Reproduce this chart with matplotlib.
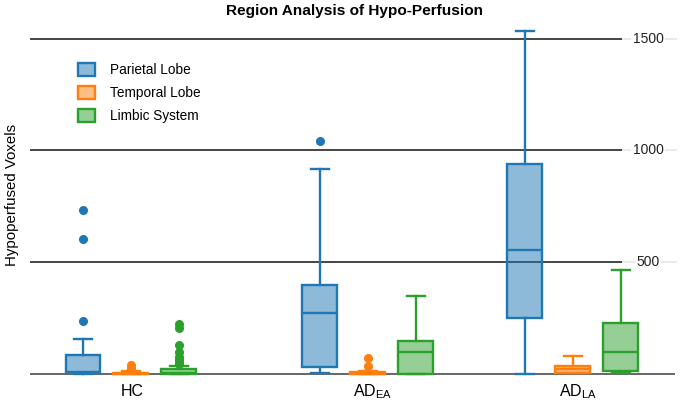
import matplotlib
matplotlib.use("Agg")
import matplotlib.pyplot as plt
from matplotlib.patches import Patch
from matplotlib.transforms import blended_transform_factory

plt.rcParams['font.family'] = ['Liberation Sans', 'DejaVu Sans']
plt.rcParams['mathtext.fontset'] = 'custom'
plt.rcParams['mathtext.rm'] = 'Liberation Sans'

categories = ["HC", "AD$_{\\mathrm{EA}}$", "AD$_{\\mathrm{LA}}$"]
series = ["Parietal Lobe", "Temporal Lobe", "Limbic System"]
colors = ["#1f77b4", "#ff7f0e", "#2ca02c"]

# box statistics per series, per category: (whislo, q1, median, q3, whishi)
parietal = [(0, 3, 8, 85, 156), (4, 31, 272, 397, 915), (0, 250, 554, 937, 1536)]
temporal = [(0, 0, 2, 6, 14), (0, 0, 2, 8, 14), (4, 4, 22, 36, 80)]
limbic = [(0, 0, 4, 22, 36), (0, 0, 98, 147, 348), (3, 13, 98, 228, 464)]
stats_all = [parietal, temporal, limbic]

parietal_out = [[237, 603, 732], [1040], []]
temporal_out = [[24, 32, 40], [36, 71], []]
limbic_out = [[45, 55, 65, 78, 100, 130, 205, 225], [], []]
outliers_all = [parietal_out, temporal_out, limbic_out]

yticks = [500, 1000, 1500]

# layout (pixel-like data units)
cat_pos = [131, 368, 573]
offsets = [-48, 0, 48]
box_w = 35

W, H = 680, 417
fig = plt.figure(figsize=(W / 100, H / 100), dpi=100)
px_l, px_r, px_t, px_b = 30, 677, 26, 380
ax = fig.add_axes([px_l / W, 1 - px_b / H, (px_r - px_l) / W, (px_b - px_t) / H])
upp = 500 / 111.8
ax.set_xlim(px_l, px_r)
ax.set_ylim((374 - px_b) * upp, (374 - px_t) * upp)
for s in ax.spines.values():
    s.set_visible(False)
ax.set_xticks([])
ax.set_yticks([])

# gridlines
ax.hlines(yticks, px_l, 622, colors="#444444", lw=1.4, zorder=1)
ax.hlines(yticks, 622, 677, colors="#e6e6e6", lw=1.2, zorder=1)
for t in yticks:
    ax.text(648, t, str(t), ha="center", va="center", fontsize=10, color="#222222",
            bbox=dict(facecolor="white", edgecolor="none", pad=1.0), zorder=2)
ax.hlines([0], px_l, 675, colors="#666666", lw=1.4, zorder=1)

for si, (sdata, odata, col) in enumerate(zip(stats_all, outliers_all, colors)):
    bstats = []
    for ci in range(len(categories)):
        lo, q1, med, q3, hi = sdata[ci]
        bstats.append(dict(whislo=lo, q1=q1, med=med, q3=q3, whishi=hi,
                           fliers=odata[ci]))
    pos = [c + offsets[si] for c in cat_pos]
    fc = matplotlib.colors.to_rgba(col, 0.5)
    ax.bxp(bstats, positions=pos, widths=box_w, patch_artist=True,
           showfliers=True, manage_ticks=False,
           boxprops=dict(facecolor=fc, edgecolor=col, lw=1.7),
           medianprops=dict(color=col, lw=1.7),
           whiskerprops=dict(color=col, lw=1.7),
           capprops=dict(color=col, lw=1.7),
           flierprops=dict(marker="o", markerfacecolor=col, markeredgecolor=col,
                           markersize=5.5, linestyle="none"),
           zorder=3)

trans = blended_transform_factory(ax.transData, fig.transFigure)
for c, lab in zip(cat_pos, categories):
    ax.text(c + 5 if "_" in lab else c + 1, 1 - 392 / H, lab, transform=trans,
            ha="center", va="center", fontsize=11.5)

fig.text(354 / W, 1 - 11 / H, "Region Analysis of Hypo-Perfusion", ha="center",
         va="center", fontsize=11.1, fontweight="bold")
fig.text(12 / W, 1 - 195 / H, "Hypoperfused Voxels", ha="center", va="center",
         rotation=90, fontsize=10.8)

handles = [Patch(facecolor=matplotlib.colors.to_rgba(c, 0.5), edgecolor=c, lw=1.7)
           for c in colors]
leg = fig.legend(handles, series, loc="upper left",
                 bbox_to_anchor=(66 / W, 1 - 51 / H), frameon=False,
                 fontsize=9.8, handlelength=1.2, handleheight=1.1,
                 handletextpad=1.15, labelspacing=0.65)

fig.savefig("out.png", dpi=100)
